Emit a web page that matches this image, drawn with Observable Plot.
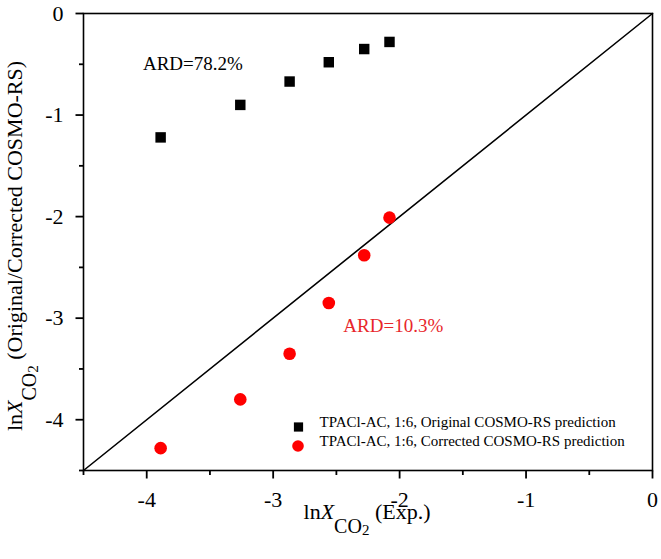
<!DOCTYPE html>
<html>
<head>
<meta charset="utf-8">
<script src="https://cdn.jsdelivr.net/npm/d3@7"></script>
<script src="https://cdn.jsdelivr.net/npm/@observablehq/plot@0.6"></script>
<style>
  html, body { margin: 0; padding: 0; background: #fff; }
  svg { display: block; }
</style>
</head>
<body>
<div id="chart"></div>
<script>
const expX = [-3.89, -3.26, -2.87, -2.56, -2.28, -2.08];
const original = [-1.22, -0.90, -0.67, -0.48, -0.35, -0.28];
const corrected = [-4.28, -3.80, -3.35, -2.85, -2.38, -2.01];
const majorTicks = [-4, -3, -2, -1, 0];
const minorTicks = [-4.5, -3.5, -2.5, -1.5, -0.5];
const legendLabels = ["TPACl-AC, 1:6, Original COSMO-RS prediction", "TPACl-AC, 1:6, Corrected COSMO-RS prediction"];
const ardLabels = [
  {x: -4.03, y: -0.50, text: "ARD=78.2%", color: "#000000"},
  {x: -2.445, y: -3.075, text: "ARD=10.3%", color: "#e8262b"}
];
const diag = [[-4.5, -4.5], [0, 0]];

const FONT = "'Liberation Serif', 'Times New Roman', serif";
const origData = expX.map((x, i) => ({x, y: original[i]}));
const corrData = expX.map((x, i) => ({x, y: corrected[i]}));

// tick marks drawn as thin filled rectangles (custom dot symbols)
const tickDown = len => ({draw(ctx) { ctx.rect(-0.9, 0, 1.8, len); }});
const tickLeft = len => ({draw(ctx) { ctx.rect(-len, -0.9, len, 1.8); }});

const plot = Plot.plot({
  width: 661,
  height: 559,
  marginLeft: 83,
  marginTop: 13,
  marginRight: 9,
  marginBottom: 89,
  style: {fontFamily: FONT, fontSize: "22px", background: "#fff", color: "#000", overflow: "visible"},
  x: {domain: [-4.5, 0]},
  y: {domain: [-4.5, 0]},
  marks: [
    Plot.frame({stroke: "#000", strokeWidth: 1.6}),
    Plot.axisX(majorTicks, {tickSize: 0, tickPadding: 21, fontSize: 22, fontFamily: FONT, label: null, tickFormat: d => String(d)}),
    Plot.axisY(majorTicks, {tickSize: 0, tickPadding: 20, fontSize: 22, fontFamily: FONT, label: null, tickFormat: d => String(d)}),
    Plot.dot(majorTicks, {x: d => d, frameAnchor: "bottom", symbol: tickDown(8), fill: "#000", stroke: "none"}),
    Plot.dot(minorTicks, {x: d => d, frameAnchor: "bottom", symbol: tickDown(4.5), fill: "#000", stroke: "none"}),
    Plot.dot(majorTicks, {y: d => d, frameAnchor: "left", symbol: tickLeft(8), fill: "#000", stroke: "none"}),
    Plot.dot(minorTicks, {y: d => d, frameAnchor: "left", symbol: tickLeft(4.5), fill: "#000", stroke: "none"}),
    Plot.line(diag, {x: d => d[0], y: d => d[1], stroke: "#000", strokeWidth: 1.6}),
    Plot.dot(origData, {x: "x", y: "y", symbol: "square", r: 5.9, fill: "#000", stroke: "none"}),
    Plot.dot(corrData, {x: "x", y: "y", symbol: "circle", r: 6.3, fill: "#ff0000", stroke: "none"}),
    Plot.text(ardLabels, {x: "x", y: "y", text: "text", fill: d => d.color, textAnchor: "start", fontSize: 19, fontFamily: FONT}),
    // legend
    Plot.dot([legendLabels[0]], {frameAnchor: "bottom-left", dx: 215, dy: -43.5, symbol: "square", r: 5.2, fill: "#000", stroke: "none"}),
    Plot.dot([legendLabels[1]], {frameAnchor: "bottom-left", dx: 214.5, dy: -24.5, symbol: "circle", r: 5.8, fill: "#ff0000", stroke: "none"}),
    Plot.text([legendLabels[0]], {frameAnchor: "bottom-left", dx: 236, dy: -43.5, text: d => d, textAnchor: "start", fontSize: 15, fontFamily: FONT, fill: "#000"}),
    Plot.text([legendLabels[1]], {frameAnchor: "bottom-left", dx: 236, dy: -24.5, text: d => d, textAnchor: "start", fontSize: 15, fontFamily: FONT, fill: "#000"})
  ]
});

const svg = d3.select(plot);
// x axis title
const xt = svg.append("text")
  .attr("x", 367).attr("y", 519)
  .attr("text-anchor", "middle")
  .attr("font-family", FONT).attr("font-size", 22).attr("fill", "#000");
xt.append("tspan").text("ln");
xt.append("tspan").attr("font-style", "italic").text("X");
xt.append("tspan").attr("font-size", 20).attr("dy", 14).text("CO");
xt.append("tspan").attr("font-size", 15).attr("dy", 2).text("2");
xt.append("tspan").attr("dy", -16).text(" (Exp.)");

// y axis title
const yt = svg.append("text")
  .attr("transform", "translate(22,246) rotate(-90)")
  .attr("text-anchor", "middle")
  .attr("font-family", FONT).attr("font-size", 22).attr("fill", "#000");
yt.append("tspan").text("ln");
yt.append("tspan").attr("font-style", "italic").text("X");
yt.append("tspan").attr("font-size", 20).attr("dy", 14).text("CO");
yt.append("tspan").attr("font-size", 15).attr("dy", 2).text("2");
yt.append("tspan").attr("dy", -16).text(" (Original/Corrected COSMO-RS)");

document.getElementById("chart").appendChild(plot);
</script>
</body>
</html>
